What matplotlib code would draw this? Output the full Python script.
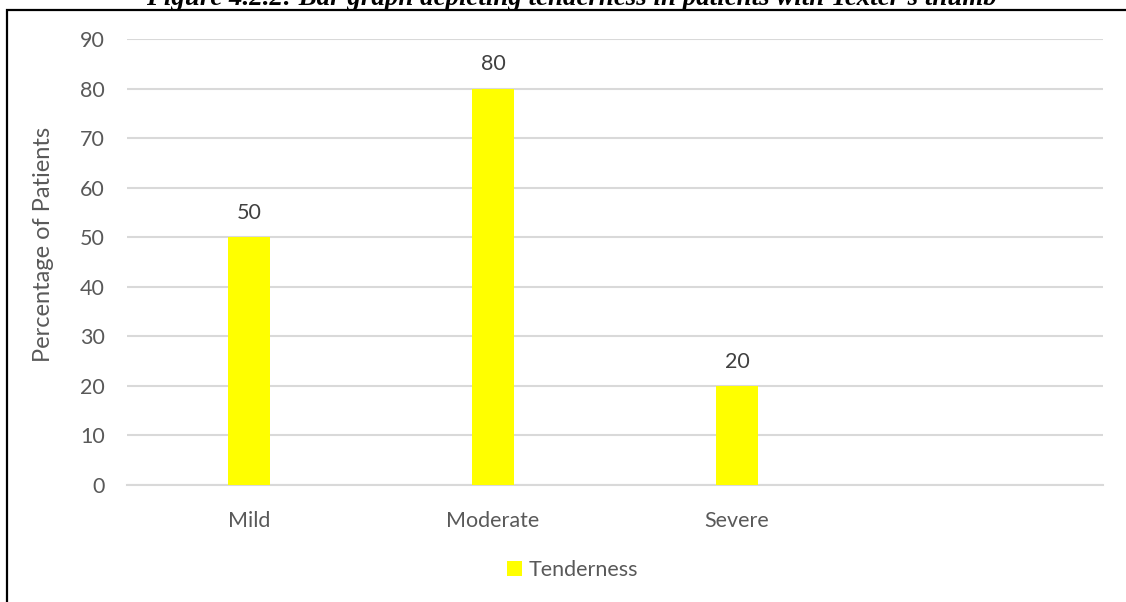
"""
Bar chart of tenderness severity among patients with texter's thumb.
"""
import matplotlib.pyplot as plt
from matplotlib.patches import Rectangle

categories = ["Mild", "Moderate", "Severe", ""]
tenderness = [50, 80, 20, None]
y_ticks = [0, 10, 20, 30, 40, 50, 60, 70, 80, 90]

TEXT = "#595959"
GRID = "#d9d9d9"
BAR = "#ffff00"
FS = 15.5

plt.rcParams["font.family"] = ["Lato", "DejaVu Sans"]

fig = plt.figure(figsize=(11.26, 6.02), dpi=100)
ax = fig.add_axes([0.1128, 0.1944, 0.8668, 0.7408])

xs = list(range(len(categories)))
vals = [v for v in tenderness if v is not None]
bars = ax.bar(xs[:len(vals)], vals, width=0.175, color=BAR, label="Tenderness", zorder=3)
for rect, v in zip(bars, vals):
    ax.annotate(f"{v}", (rect.get_x() + rect.get_width() / 2, v),
                xytext=(0, 17.5), textcoords="offset points",
                ha="center", va="center", fontsize=FS, color="#404040")

ax.set_xlim(-0.5, len(categories) - 0.5)
ax.set_ylim(0, 90)
ax.set_xticks(xs)
ax.set_xticklabels(categories)
ax.set_yticks(y_ticks)
ax.tick_params(length=0, labelsize=FS, labelcolor=TEXT)
ax.tick_params(axis="x", pad=19)
ax.tick_params(axis="y", pad=16)
ax.grid(axis="y", color=GRID, linewidth=1.5, zorder=0)
for side in ("top", "right", "left"):
    ax.spines[side].set_visible(False)
ax.spines["bottom"].set_color(GRID)
ax.spines["bottom"].set_linewidth(1.5)

ax.set_ylabel("Percentage of Patients", fontsize=17, color=TEXT)
ax.yaxis.set_label_coords(-0.075, 0.54)

fig.legend(handles=[bars], labels=["Tenderness"], loc="center",
           bbox_to_anchor=(0.5085, 0.0532), frameon=False, fontsize=FS,
           labelcolor=TEXT, handlelength=0.7, handleheight=0.7, handletextpad=0.28)

# chart frame, runs past the right and bottom edges
fig.patches.append(Rectangle((0.0062, -0.1), 1.2, 1.0835, transform=fig.transFigure,
                             fill=False, edgecolor="black", linewidth=1.6))

fig.text(0.5075, 0.9917, "Figure 4.2.2: Bar graph depicting tenderness in patients with Texter's thumb",
         ha="center", va="baseline", fontsize=19.4, fontweight="bold", fontstyle="italic",
         family="Liberation Serif", color="black")

fig.savefig("out.png", dpi=100)
